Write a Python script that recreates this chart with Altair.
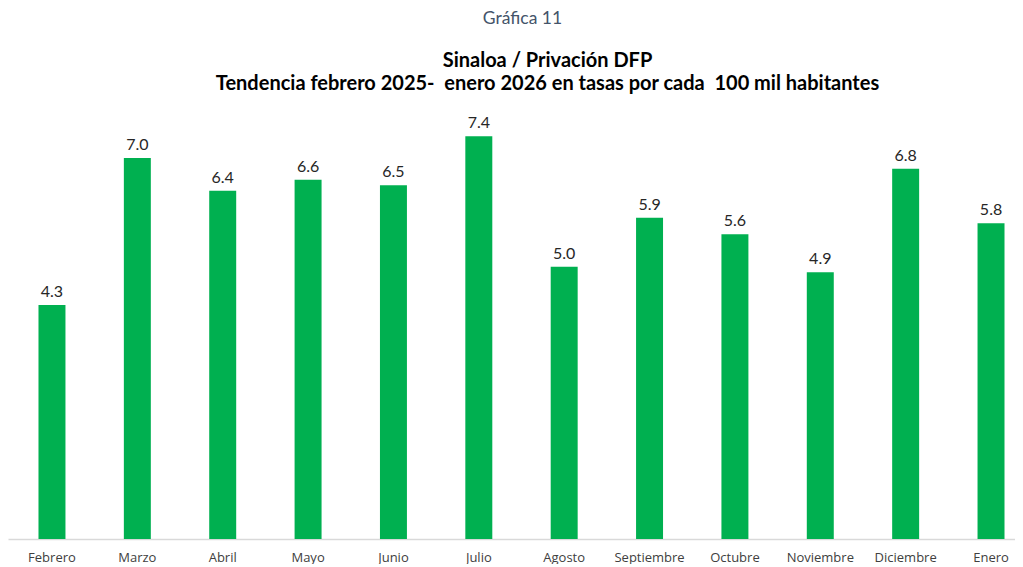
import altair as alt
import pandas as pd

months = ["Febrero", "Marzo", "Abril", "Mayo", "Junio", "Julio", "Agosto",
          "Septiembre", "Octubre", "Noviembre", "Diciembre", "Enero"]
rates = [4.3, 7.0, 6.4, 6.6, 6.5, 7.4, 5.0, 5.9, 5.6, 4.9, 6.8, 5.8]

df = pd.DataFrame({"mes": months, "tasa": rates})

x = alt.X("mes:N", sort=months, title=None,
          scale=alt.Scale(paddingInner=0.684, paddingOuter=0.24, align=0.744),
          axis=alt.Axis(labelAngle=0, ticks=False, domainColor="#D9D9D9",
                        domainWidth=1.5, labelFont="Open Sans", labelFontSize=13,
                        labelColor="#404040", labelPadding=12, grid=False))
y = alt.Y("tasa:Q", title=None, scale=alt.Scale(domain=[0, 7.9]), axis=None)

bars = alt.Chart(df).mark_bar(color="#00B050").encode(x=x, y=y)
labels = alt.Chart(df).mark_text(dy=-13, font="Lato", fontSize=16, color="#262626").encode(
    x=x, y=y, text=alt.Text("tasa:Q", format=".1f"))

inner = alt.layer(bars, labels).properties(
    width=1007, height=430,
    title=alt.Title(["Sinaloa / Privación DFP",
                     "Tendencia febrero 2025-\u00a0 enero 2026 en tasas por cada\u00a0 100 mil habitantes"],
                    anchor="middle", dx=36, font="Lato", fontSize=20, fontWeight="bold",
                    color="#000000", lineHeight=23, offset=15))

chart = alt.vconcat(inner).properties(
    title=alt.Title("Gráfica 11", anchor="middle", dx=11, font="Lato", fontSize=17.5,
                    fontWeight="normal", color="#44546A", offset=24),
    padding={"left": 0, "top": 1, "right": 0, "bottom": 0}
).configure_view(stroke=None, strokeWidth=0)

chart.save("out.html", embed_options={"renderer": "svg", "actions": False})
